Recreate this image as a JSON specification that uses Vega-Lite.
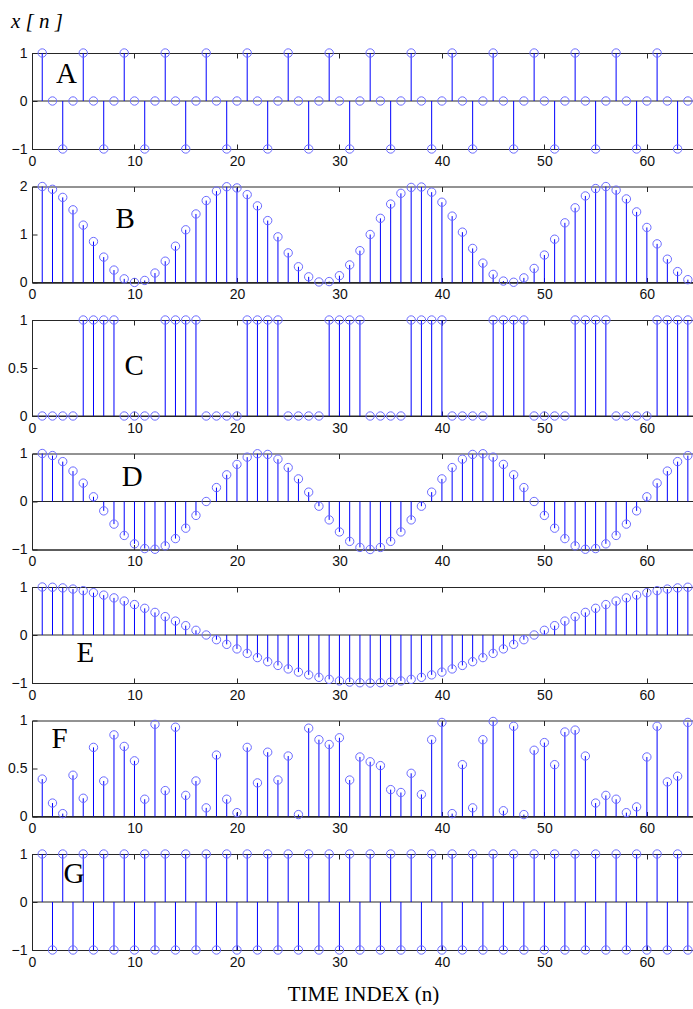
{
"$schema": "https://vega.github.io/schema/vega-lite/v6.json",
"padding": {"left": 7, "top": 10, "right": 0, "bottom": 0},
"background": "white",
"spacing": 9.5,
"config": {
  "view": {"stroke": "#262626", "strokeWidth": 1},
  "axis": {"labelFont": "Liberation Sans", "labelFontSize": 14, "labelColor": "#111", "domainColor": "#262626", "tickColor": "#262626", "tickSize": -5, "labelPadding": 10, "grid": false, "labelFlush": false, "format": "~r", "titleFont": "Liberation Serif", "titleFontSize": 21, "titleFontWeight": "normal", "titleColor": "#000"}
},
"datasets": {"sig": [
{"n":1,"A":1,"B":2,"C":0,"D":1,"E":1,"F":0.39,"G":1},
{"n":2,"A":0,"B":1.942,"C":0,"D":0.957,"E":0.995,"F":0.14,"G":-1},
{"n":3,"A":-1,"B":1.773,"C":0,"D":0.831,"E":0.981,"F":0.03,"G":1},
{"n":4,"A":0,"B":1.514,"C":0,"D":0.634,"E":0.957,"F":0.43,"G":-1},
{"n":5,"A":1,"B":1.195,"C":1,"D":0.383,"E":0.924,"F":0.19,"G":1},
{"n":6,"A":0,"B":0.853,"C":1,"D":0.098,"E":0.882,"F":0.72,"G":-1},
{"n":7,"A":-1,"B":0.529,"C":1,"D":-0.195,"E":0.831,"F":0.37,"G":1},
{"n":8,"A":0,"B":0.259,"C":1,"D":-0.471,"E":0.773,"F":0.85,"G":-1},
{"n":9,"A":1,"B":0.076,"C":0,"D":-0.707,"E":0.707,"F":0.73,"G":1},
{"n":10,"A":0,"B":0.001,"C":0,"D":-0.882,"E":0.634,"F":0.58,"G":-1},
{"n":11,"A":-1,"B":0.043,"C":0,"D":-0.981,"E":0.556,"F":0.18,"G":1},
{"n":12,"A":0,"B":0.197,"C":0,"D":-0.995,"E":0.471,"F":0.96,"G":-1},
{"n":13,"A":1,"B":0.444,"C":1,"D":-0.924,"E":0.383,"F":0.27,"G":1},
{"n":14,"A":0,"B":0.757,"C":1,"D":-0.773,"E":0.29,"F":0.93,"G":-1},
{"n":15,"A":-1,"B":1.098,"C":1,"D":-0.556,"E":0.195,"F":0.22,"G":1},
{"n":16,"A":0,"B":1.428,"C":1,"D":-0.29,"E":0.098,"F":0.37,"G":-1},
{"n":17,"A":1,"B":1.707,"C":0,"D":0,"E":0,"F":0.09,"G":1},
{"n":18,"A":0,"B":1.904,"C":0,"D":0.29,"E":-0.098,"F":0.64,"G":-1},
{"n":19,"A":-1,"B":1.995,"C":0,"D":0.556,"E":-0.195,"F":0.18,"G":1},
{"n":20,"A":0,"B":1.97,"C":0,"D":0.773,"E":-0.29,"F":0.04,"G":-1},
{"n":21,"A":1,"B":1.831,"C":1,"D":0.924,"E":-0.383,"F":0.72,"G":1},
{"n":22,"A":0,"B":1.596,"C":1,"D":0.995,"E":-0.471,"F":0.35,"G":-1},
{"n":23,"A":-1,"B":1.29,"C":1,"D":0.981,"E":-0.556,"F":0.67,"G":1},
{"n":24,"A":0,"B":0.951,"C":1,"D":0.882,"E":-0.634,"F":0.38,"G":-1},
{"n":25,"A":1,"B":0.617,"C":0,"D":0.707,"E":-0.707,"F":0.63,"G":1},
{"n":26,"A":0,"B":0.328,"C":0,"D":0.471,"E":-0.773,"F":0.02,"G":-1},
{"n":27,"A":-1,"B":0.118,"C":0,"D":0.195,"E":-0.831,"F":0.92,"G":1},
{"n":28,"A":0,"B":0.011,"C":0,"D":-0.098,"E":-0.882,"F":0.8,"G":-1},
{"n":29,"A":1,"B":0.019,"C":1,"D":-0.383,"E":-0.924,"F":0.75,"G":1},
{"n":30,"A":0,"B":0.142,"C":1,"D":-0.634,"E":-0.957,"F":0.82,"G":-1},
{"n":31,"A":-1,"B":0.366,"C":1,"D":-0.831,"E":-0.981,"F":0.38,"G":1},
{"n":32,"A":0,"B":0.663,"C":1,"D":-0.957,"E":-0.995,"F":0.62,"G":-1},
{"n":33,"A":1,"B":1,"C":0,"D":-1,"E":-1,"F":0.57,"G":1},
{"n":34,"A":0,"B":1.337,"C":0,"D":-0.957,"E":-0.995,"F":0.53,"G":-1},
{"n":35,"A":-1,"B":1.634,"C":0,"D":-0.831,"E":-0.981,"F":0.28,"G":1},
{"n":36,"A":0,"B":1.858,"C":0,"D":-0.634,"E":-0.957,"F":0.25,"G":-1},
{"n":37,"A":1,"B":1.981,"C":1,"D":-0.383,"E":-0.924,"F":0.45,"G":1},
{"n":38,"A":0,"B":1.989,"C":1,"D":-0.098,"E":-0.882,"F":0.23,"G":-1},
{"n":39,"A":-1,"B":1.882,"C":1,"D":0.195,"E":-0.831,"F":0.8,"G":1},
{"n":40,"A":0,"B":1.672,"C":1,"D":0.471,"E":-0.773,"F":0.98,"G":-1},
{"n":41,"A":1,"B":1.383,"C":0,"D":0.707,"E":-0.707,"F":0.03,"G":1},
{"n":42,"A":0,"B":1.049,"C":0,"D":0.882,"E":-0.634,"F":0.54,"G":-1},
{"n":43,"A":-1,"B":0.71,"C":0,"D":0.981,"E":-0.556,"F":0.09,"G":1},
{"n":44,"A":0,"B":0.404,"C":0,"D":0.995,"E":-0.471,"F":0.8,"G":-1},
{"n":45,"A":1,"B":0.169,"C":1,"D":0.924,"E":-0.383,"F":0.99,"G":1},
{"n":46,"A":0,"B":0.03,"C":1,"D":0.773,"E":-0.29,"F":0.06,"G":-1},
{"n":47,"A":-1,"B":0.005,"C":1,"D":0.556,"E":-0.195,"F":0.94,"G":1},
{"n":48,"A":0,"B":0.096,"C":1,"D":0.29,"E":-0.098,"F":0.02,"G":-1},
{"n":49,"A":1,"B":0.293,"C":0,"D":0,"E":0,"F":0.69,"G":1},
{"n":50,"A":0,"B":0.572,"C":0,"D":-0.29,"E":0.098,"F":0.77,"G":-1},
{"n":51,"A":-1,"B":0.902,"C":0,"D":-0.556,"E":0.195,"F":0.54,"G":1},
{"n":52,"A":0,"B":1.243,"C":0,"D":-0.773,"E":0.29,"F":0.88,"G":-1},
{"n":53,"A":1,"B":1.556,"C":1,"D":-0.924,"E":0.383,"F":0.9,"G":1},
{"n":54,"A":0,"B":1.803,"C":1,"D":-0.995,"E":0.471,"F":0.63,"G":-1},
{"n":55,"A":-1,"B":1.957,"C":1,"D":-0.981,"E":0.556,"F":0.14,"G":1},
{"n":56,"A":0,"B":1.999,"C":1,"D":-0.882,"E":0.634,"F":0.22,"G":-1},
{"n":57,"A":1,"B":1.924,"C":0,"D":-0.707,"E":0.707,"F":0.18,"G":1},
{"n":58,"A":0,"B":1.741,"C":0,"D":-0.471,"E":0.773,"F":0.04,"G":-1},
{"n":59,"A":-1,"B":1.471,"C":0,"D":-0.195,"E":0.831,"F":0.1,"G":1},
{"n":60,"A":0,"B":1.147,"C":0,"D":0.098,"E":0.882,"F":0.62,"G":-1},
{"n":61,"A":1,"B":0.805,"C":1,"D":0.383,"E":0.924,"F":0.94,"G":1},
{"n":62,"A":0,"B":0.486,"C":1,"D":0.634,"E":0.957,"F":0.36,"G":-1},
{"n":63,"A":-1,"B":0.227,"C":1,"D":0.831,"E":0.981,"F":0.42,"G":1},
{"n":64,"A":0,"B":0.059,"C":1,"D":0.957,"E":0.995,"F":0.98,"G":-1}
],
"one": [{"k": 0}]},
"vconcat": [
{
 "width": 662, "height": 96,
 "title": {"text": "x [ n ]", "anchor": "start", "frame": "group", "dx": -21, "offset": 14, "font": "Liberation Serif", "fontStyle": "italic", "fontSize": 21, "fontWeight": "normal", "color": "#000"},
 "layer": [
  {"data": {"name": "one"}, "mark": {"type": "rule", "color": "#262626"}, "encoding": {"y": {"datum": 0, "type": "quantitative", "scale": {"domain": [-1, 1]}, "axis": {"values": [-1, 0, 1], "title": null}}}},
  {"data": {"name": "sig"}, "mark": {"type": "rule", "color": "#0000ff", "strokeWidth": 1}, "encoding": {
    "x": {"field": "n", "type": "quantitative", "scale": {"domain": [0, 64.6], "nice": false}, "axis": {"values": [0, 10, 20, 30, 40, 50, 60], "title": null}},
    "y": {"field": "A", "type": "quantitative", "axis": {"values": [-1, 0, 1], "title": null}},
    "y2": {"datum": 0}}},
  {"data": {"name": "sig"}, "mark": {"type": "point", "shape": "circle", "filled": false, "color": "#6b6bff", "size": 70, "strokeWidth": 1, "opacity": 1}, "encoding": {
    "x": {"field": "n", "type": "quantitative", "axis": {"orient": "top", "labels": false, "domain": false, "values": [0, 10, 20, 30, 40, 50, 60], "title": null}},
    "y": {"field": "A", "type": "quantitative", "axis": {"values": [-1, 0, 1], "title": null}}}},
  {"data": {"name": "one"}, "mark": {"type": "text", "font": "Liberation Serif", "fontSize": 29, "color": "#000"}, "encoding": {
    "x": {"datum": 3.37, "type": "quantitative", "axis": null},
    "y": {"datum": 0.56, "type": "quantitative", "axis": {"values": [-1, 0, 1], "title": null}},
    "text": {"value": "A"}}}
 ],
 "resolve": {"axis": {"x": "independent"}}
},
{
 "width": 662, "height": 96,
 "layer": [
  {"data": {"name": "one"}, "mark": {"type": "rule", "color": "#262626"}, "encoding": {"y": {"datum": 0, "type": "quantitative", "scale": {"domain": [0, 2]}, "axis": {"values": [0, 1, 2], "title": null}}}},
  {"data": {"name": "sig"}, "mark": {"type": "rule", "color": "#0000ff", "strokeWidth": 1}, "encoding": {
    "x": {"field": "n", "type": "quantitative", "scale": {"domain": [0, 64.6], "nice": false}, "axis": {"values": [0, 10, 20, 30, 40, 50, 60], "title": null}},
    "y": {"field": "B", "type": "quantitative", "axis": {"values": [0, 1, 2], "title": null}},
    "y2": {"datum": 0}}},
  {"data": {"name": "sig"}, "mark": {"type": "point", "shape": "circle", "filled": false, "color": "#6b6bff", "size": 70, "strokeWidth": 1, "opacity": 1}, "encoding": {
    "x": {"field": "n", "type": "quantitative", "axis": {"orient": "top", "labels": false, "domain": false, "values": [0, 10, 20, 30, 40, 50, 60], "title": null}},
    "y": {"field": "B", "type": "quantitative", "axis": {"values": [0, 1, 2], "title": null}}}},
  {"data": {"name": "one"}, "mark": {"type": "text", "font": "Liberation Serif", "fontSize": 29, "color": "#000"}, "encoding": {
    "x": {"datum": 9.1, "type": "quantitative", "axis": null},
    "y": {"datum": 1.32, "type": "quantitative", "axis": {"values": [0, 1, 2], "title": null}},
    "text": {"value": "B"}}}
 ],
 "resolve": {"axis": {"x": "independent"}}
},
{
 "width": 662, "height": 96,
 "layer": [
  {"data": {"name": "one"}, "mark": {"type": "rule", "color": "#262626"}, "encoding": {"y": {"datum": 0, "type": "quantitative", "scale": {"domain": [0, 1]}, "axis": {"values": [0, 0.5, 1], "title": null}}}},
  {"data": {"name": "sig"}, "mark": {"type": "rule", "color": "#0000ff", "strokeWidth": 1}, "encoding": {
    "x": {"field": "n", "type": "quantitative", "scale": {"domain": [0, 64.6], "nice": false}, "axis": {"values": [0, 10, 20, 30, 40, 50, 60], "title": null}},
    "y": {"field": "C", "type": "quantitative", "axis": {"values": [0, 0.5, 1], "title": null}},
    "y2": {"datum": 0}}},
  {"data": {"name": "sig"}, "mark": {"type": "point", "shape": "circle", "filled": false, "color": "#6b6bff", "size": 70, "strokeWidth": 1, "opacity": 1}, "encoding": {
    "x": {"field": "n", "type": "quantitative", "axis": {"orient": "top", "labels": false, "domain": false, "values": [0, 10, 20, 30, 40, 50, 60], "title": null}},
    "y": {"field": "C", "type": "quantitative", "axis": {"values": [0, 0.5, 1], "title": null}}}},
  {"data": {"name": "one"}, "mark": {"type": "text", "font": "Liberation Serif", "fontSize": 29, "color": "#000"}, "encoding": {
    "x": {"datum": 9.97, "type": "quantitative", "axis": null},
    "y": {"datum": 0.52, "type": "quantitative", "axis": {"values": [0, 0.5, 1], "title": null}},
    "text": {"value": "C"}}}
 ],
 "resolve": {"axis": {"x": "independent"}}
},
{
 "width": 662, "height": 96,
 "layer": [
  {"data": {"name": "one"}, "mark": {"type": "rule", "color": "#262626"}, "encoding": {"y": {"datum": 0, "type": "quantitative", "scale": {"domain": [-1, 1]}, "axis": {"values": [-1, 0, 1], "title": null}}}},
  {"data": {"name": "sig"}, "mark": {"type": "rule", "color": "#0000ff", "strokeWidth": 1}, "encoding": {
    "x": {"field": "n", "type": "quantitative", "scale": {"domain": [0, 64.6], "nice": false}, "axis": {"values": [0, 10, 20, 30, 40, 50, 60], "title": null}},
    "y": {"field": "D", "type": "quantitative", "axis": {"values": [-1, 0, 1], "title": null}},
    "y2": {"datum": 0}}},
  {"data": {"name": "sig"}, "mark": {"type": "point", "shape": "circle", "filled": false, "color": "#6b6bff", "size": 70, "strokeWidth": 1, "opacity": 1}, "encoding": {
    "x": {"field": "n", "type": "quantitative", "axis": {"orient": "top", "labels": false, "domain": false, "values": [0, 10, 20, 30, 40, 50, 60], "title": null}},
    "y": {"field": "D", "type": "quantitative", "axis": {"values": [-1, 0, 1], "title": null}}}},
  {"data": {"name": "one"}, "mark": {"type": "text", "font": "Liberation Serif", "fontSize": 29, "color": "#000"}, "encoding": {
    "x": {"datum": 9.77, "type": "quantitative", "axis": null},
    "y": {"datum": 0.51, "type": "quantitative", "axis": {"values": [-1, 0, 1], "title": null}},
    "text": {"value": "D"}}}
 ],
 "resolve": {"axis": {"x": "independent"}}
},
{
 "width": 662, "height": 96,
 "layer": [
  {"data": {"name": "one"}, "mark": {"type": "rule", "color": "#262626"}, "encoding": {"y": {"datum": 0, "type": "quantitative", "scale": {"domain": [-1, 1]}, "axis": {"values": [-1, 0, 1], "title": null}}}},
  {"data": {"name": "sig"}, "mark": {"type": "rule", "color": "#0000ff", "strokeWidth": 1}, "encoding": {
    "x": {"field": "n", "type": "quantitative", "scale": {"domain": [0, 64.6], "nice": false}, "axis": {"values": [0, 10, 20, 30, 40, 50, 60], "title": null}},
    "y": {"field": "E", "type": "quantitative", "axis": {"values": [-1, 0, 1], "title": null}},
    "y2": {"datum": 0}}},
  {"data": {"name": "sig"}, "mark": {"type": "point", "shape": "circle", "filled": false, "color": "#6b6bff", "size": 70, "strokeWidth": 1, "opacity": 1}, "encoding": {
    "x": {"field": "n", "type": "quantitative", "axis": {"orient": "top", "labels": false, "domain": false, "values": [0, 10, 20, 30, 40, 50, 60], "title": null}},
    "y": {"field": "E", "type": "quantitative", "axis": {"values": [-1, 0, 1], "title": null}}}},
  {"data": {"name": "one"}, "mark": {"type": "text", "font": "Liberation Serif", "fontSize": 29, "color": "#000"}, "encoding": {
    "x": {"datum": 5.2, "type": "quantitative", "axis": null},
    "y": {"datum": -0.375, "type": "quantitative", "axis": {"values": [-1, 0, 1], "title": null}},
    "text": {"value": "E"}}}
 ],
 "resolve": {"axis": {"x": "independent"}}
},
{
 "width": 662, "height": 96,
 "layer": [
  {"data": {"name": "one"}, "mark": {"type": "rule", "color": "#262626"}, "encoding": {"y": {"datum": 0, "type": "quantitative", "scale": {"domain": [0, 1]}, "axis": {"values": [0, 0.5, 1], "title": null}}}},
  {"data": {"name": "sig"}, "mark": {"type": "rule", "color": "#0000ff", "strokeWidth": 1}, "encoding": {
    "x": {"field": "n", "type": "quantitative", "scale": {"domain": [0, 64.6], "nice": false}, "axis": {"values": [0, 10, 20, 30, 40, 50, 60], "title": null}},
    "y": {"field": "F", "type": "quantitative", "axis": {"values": [0, 0.5, 1], "title": null}},
    "y2": {"datum": 0}}},
  {"data": {"name": "sig"}, "mark": {"type": "point", "shape": "circle", "filled": false, "color": "#6b6bff", "size": 70, "strokeWidth": 1, "opacity": 1}, "encoding": {
    "x": {"field": "n", "type": "quantitative", "axis": {"orient": "top", "labels": false, "domain": false, "values": [0, 10, 20, 30, 40, 50, 60], "title": null}},
    "y": {"field": "F", "type": "quantitative", "axis": {"values": [0, 0.5, 1], "title": null}}}},
  {"data": {"name": "one"}, "mark": {"type": "text", "font": "Liberation Serif", "fontSize": 29, "color": "#000"}, "encoding": {
    "x": {"datum": 2.7, "type": "quantitative", "axis": null},
    "y": {"datum": 0.81, "type": "quantitative", "axis": {"values": [0, 0.5, 1], "title": null}},
    "text": {"value": "F"}}}
 ],
 "resolve": {"axis": {"x": "independent"}}
},
{
 "width": 662, "height": 96,
 "layer": [
  {"data": {"name": "one"}, "mark": {"type": "rule", "color": "#262626"}, "encoding": {"y": {"datum": 0, "type": "quantitative", "scale": {"domain": [-1, 1]}, "axis": {"values": [-1, 0, 1], "title": null}}}},
  {"data": {"name": "sig"}, "mark": {"type": "rule", "color": "#0000ff", "strokeWidth": 1}, "encoding": {
    "x": {"field": "n", "type": "quantitative", "scale": {"domain": [0, 64.6], "nice": false}, "axis": {"values": [0, 10, 20, 30, 40, 50, 60], "title": "TIME INDEX (n)", "titlePadding": 14}},
    "y": {"field": "G", "type": "quantitative", "axis": {"values": [-1, 0, 1], "title": null}},
    "y2": {"datum": 0}}},
  {"data": {"name": "sig"}, "mark": {"type": "point", "shape": "circle", "filled": false, "color": "#6b6bff", "size": 70, "strokeWidth": 1, "opacity": 1}, "encoding": {
    "x": {"field": "n", "type": "quantitative", "axis": {"orient": "top", "labels": false, "domain": false, "values": [0, 10, 20, 30, 40, 50, 60], "title": null}},
    "y": {"field": "G", "type": "quantitative", "axis": {"values": [-1, 0, 1], "title": null}}}},
  {"data": {"name": "one"}, "mark": {"type": "text", "font": "Liberation Serif", "fontSize": 29, "color": "#000"}, "encoding": {
    "x": {"datum": 4.1, "type": "quantitative", "axis": null},
    "y": {"datum": 0.59, "type": "quantitative", "axis": {"values": [-1, 0, 1], "title": null}},
    "text": {"value": "G"}}}
 ],
 "resolve": {"axis": {"x": "independent"}}
}
]
}
